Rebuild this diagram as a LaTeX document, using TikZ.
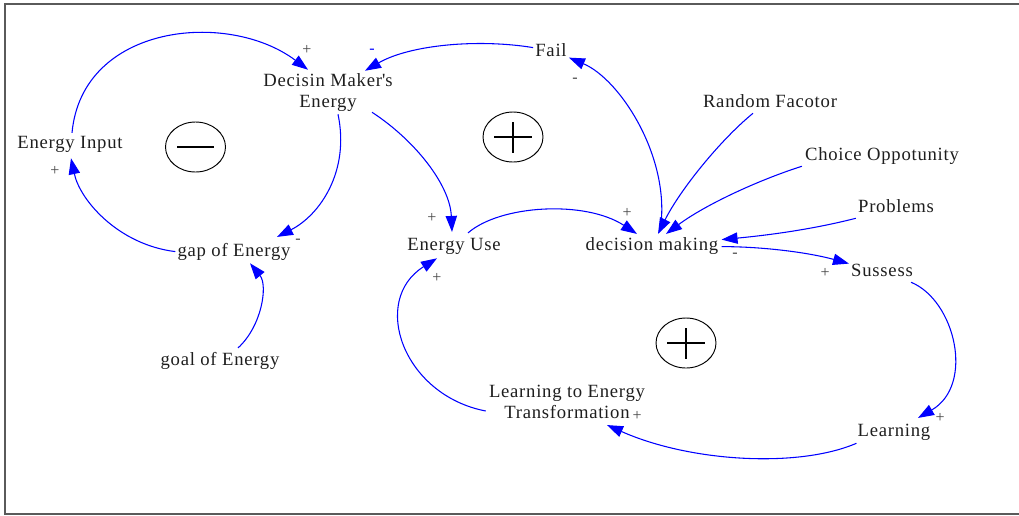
\documentclass[tikz,border=0pt]{standalone}
\usepackage{fontspec}
\setmainfont{Liberation Serif}[LetterSpace=4]
\usetikzlibrary{arrows.meta,calc}
\definecolor{linkblue}{RGB}{0,0,255}
\definecolor{inkgray}{RGB}{30,30,30}
\definecolor{signgray}{RGB}{70,70,70}
\definecolor{framegray}{RGB}{90,90,90}
\begin{document}
\begin{tikzpicture}[x=0.75pt,y=-0.75pt,
  var/.style={font=\fontsize{14}{15.75}\selectfont, text=inkgray, inner sep=1.5pt},
  one/.style={var, anchor=base, text height=9.6pt, text depth=3pt},
  two/.style={var, align=center},
  link/.style={draw=linkblue, line width=0.8pt,
    -{Triangle[length=12pt,width=8.5pt]}, fill=none},
  sign/.style={font=\fontsize{12}{12}\selectfont, text=signgray, inner sep=0pt},
  bluesign/.style={sign, text=linkblue},
  loopmark/.style={draw=black, line width=0.7pt},
  loopbar/.style={draw=black, line width=1.6pt},
  ]
\useasboundingbox (0,0) rectangle (1019,515);

% frame, open on the right
\draw[framegray, line width=1.1pt] (1019,4) -- (5,4) -- (5,514) -- (1019,514);

% variables
\node[one] (ei)   at (70,148)  {Energy Input};
\node[two] (dme)  at (328,93)  {Decisin Maker\textquotesingle s\\Energy};
\node[one] (gap)  at (234,256) {gap of Energy};
\node[one] (goal) at (220,365) {goal of Energy};
\node[one] (fail) at (551,56)  {Fail};
\node[one] (rf)   at (770,107) {Random Facotor};
\node[one] (co)   at (882,160) {Choice Oppotunity};
\node[one] (pb)   at (896,212) {Problems};
\node[one] (dm)   at (652,250) {decision making};
\node[one] (eu)   at (454,250) {Energy Use};
\node[one] (ss)   at (882,276) {Sussess};
\node[one] (ln)   at (894,436) {Learning};
\node[two] (let)  at (567,402) {Learning to Energy\\Transformation};

% loop markers
\draw[loopmark] (195.5,147) ellipse [x radius=22.5pt, y radius=18.75pt];
\draw[loopbar] (177,147) -- (214,147);
\draw[loopmark] (513,137) ellipse [x radius=22.5pt, y radius=18.75pt];
\draw[loopbar] (494,137) -- (532,137) (513,122) -- (513,153);
\draw[loopmark] (686,343) ellipse [x radius=22.5pt, y radius=18.75pt];
\draw[loopbar] (667,343) -- (705,343) (686,328) -- (686,359);

% causal links
\draw[link] ($(ei.north)+(2,0)$) .. controls +(10,-109) and +(-80,-60) .. ($(dme.north)+(-20,-2)$);
\draw[link] ($(dme.south)+(10,0)$) .. controls +(12,57) and +(43,-22) .. ($(gap.north)+(43,-4)$);
\draw[link] (gap.west) .. controls +(-57,-7) and +(9,42) .. ($(ei.south)+(1,4)$);
\draw[link] ($(goal.north)+(18,-2)$) .. controls +(24,-22) and +(18,22) .. ($(gap.south)+(16,1)$);
\draw[link] ($(fail.west)+(0,-4)$) .. controls +(-55,-9) and +(45,-26) .. ($(dme.north)+(37,-1)$);
\draw[link] ($(dm.north)+(8,-4)$) .. controls +(12,-71) and +(52,22) .. ($(fail.east)+(0,6)$);
\draw[link] ($(rf.south)+(-17,0)$) .. controls +(-33,27) and +(22,-44) .. ($(dm.north)+(6,-1)$);
\draw[link] ($(co.south west)+(-1,0)$) .. controls +(-44,14) and +(39,-29) .. ($(dm.north)+(14,-1)$);
\draw[link] (pb.south west) .. controls +(-47,12) and +(42,-4) .. ($(dm.east)+(1,-6)$);
\draw[link] ($(dm.east)+(1,1)$) .. controls +(42,0) and +(-40,-11) .. ($(ss.west)+(0,-8)$);
\draw[link] ($(ss.south east)+(-4,0)$) .. controls +(44,18) and +(57,-33) .. ($(ln.north)+(24,-3)$);
\draw[link] ($(ln.south west)+(1,1)$) .. controls +(-58,25) and +(83,37) .. ($(let.south)+(40,4)$);
\draw[link] ($(let.west)+(-1,9)$) .. controls +(-83,-16) and +(-67,42) .. ($(eu.south)+(-17,2)$);
\draw[link] ($(eu.north)+(14,-2)$) .. controls +(32,-28) and +(-52,-34) .. ($(dm.north)+(-15,-1)$);
\draw[link] ($(dme.south)+(44,-2)$) .. controls +(43,28) and +(-2,-47) .. ($(eu.north)+(-2,-3)$);

% link polarities
\node[sign]     (s1)  at (307,50)  {+};
\node[bluesign] (s2)  at (372,51)  {-};
\node[sign]     (s3)  at (298,241) {-};
\node[sign]     (s4)  at (55,171)  {+};
\node[sign]     (s5)  at (575,80)  {-};
\node[sign]     (s6)  at (627,213) {+};
\node[sign]     (s7)  at (432,218) {+};
\node[sign]     (s8)  at (437,278) {+};
\node[sign]     (s9)  at (735,255) {-};
\node[sign]     (s10) at (825,273) {+};
\node[sign]     (s11) at (940,418) {+};
\node[sign]     (s12) at (637,416) {+};
\end{tikzpicture}
\end{document}
